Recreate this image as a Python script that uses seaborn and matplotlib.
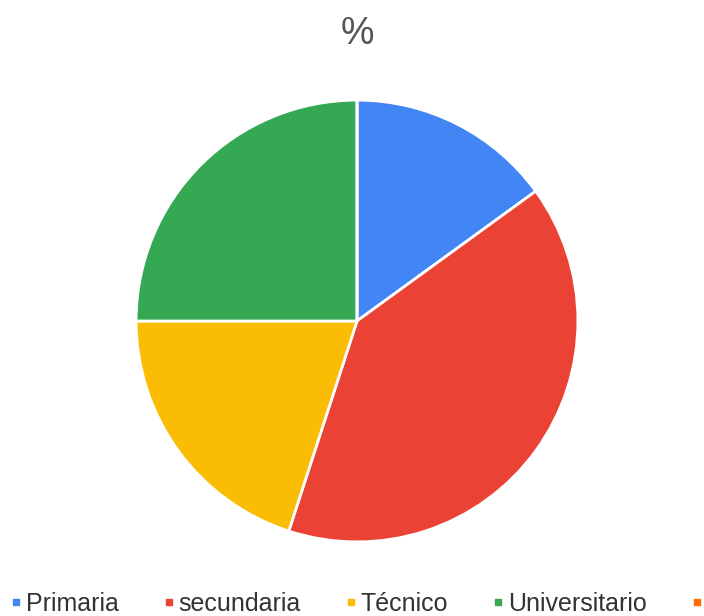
import matplotlib
matplotlib.use("Agg")
import matplotlib.pyplot as plt
from matplotlib.lines import Line2D
import seaborn as sns

sns.set_theme(style="white")
plt.rcParams['font.family'] = ['Liberation Sans', 'DejaVu Sans']

categorias = ['Primaria', 'secundaria', 'Técnico', 'Universitario', 'Otro']
porcentajes = [15, 40, 20, 25, 0]
colores = ['#4285F4', '#EA4335', '#FBBC04', '#34A853', '#FF6D01']

fig = plt.figure(figsize=(7.04, 6.16), dpi=100)
# pie centre ~ (357, 321) px, radius ~ 222 px
cx, cy, r = 357, 321, 222
ax = fig.add_axes([(cx - r) / 704, (616 - cy - r) / 616, 2 * r / 704, 2 * r / 616])

wedges, _ = ax.pie(porcentajes, colors=colores, startangle=90, counterclock=False,
                   radius=1, wedgeprops=dict(edgecolor='white', linewidth=2))
ax.set_xlim(-1.005, 1.005)
ax.set_ylim(-1.005, 1.005)
ax.set_aspect('equal')
ax.axis('off')

fig.text(cx / 704, 1 - 34 / 616, '%', ha='center', va='center', fontsize=27, color='#555555')

# the last entry is cut off at the right edge in the original, only its marker shows
handles = [Line2D([], [], marker='s', linestyle='', color=c, markersize=4.5) for c in colores]
etiquetas = categorias[:4] + ['']
leg = fig.legend(handles, etiquetas, ncol=5, loc='center left',
                 bbox_to_anchor=(0.017, 1 - 604 / 616), frameon=False,
                 fontsize=18, handlelength=0.3, handletextpad=0.25,
                 columnspacing=1.85, borderaxespad=0, borderpad=0)
for t in leg.get_texts():
    t.set_color('#333333')

fig.savefig('out.png', dpi=100)
